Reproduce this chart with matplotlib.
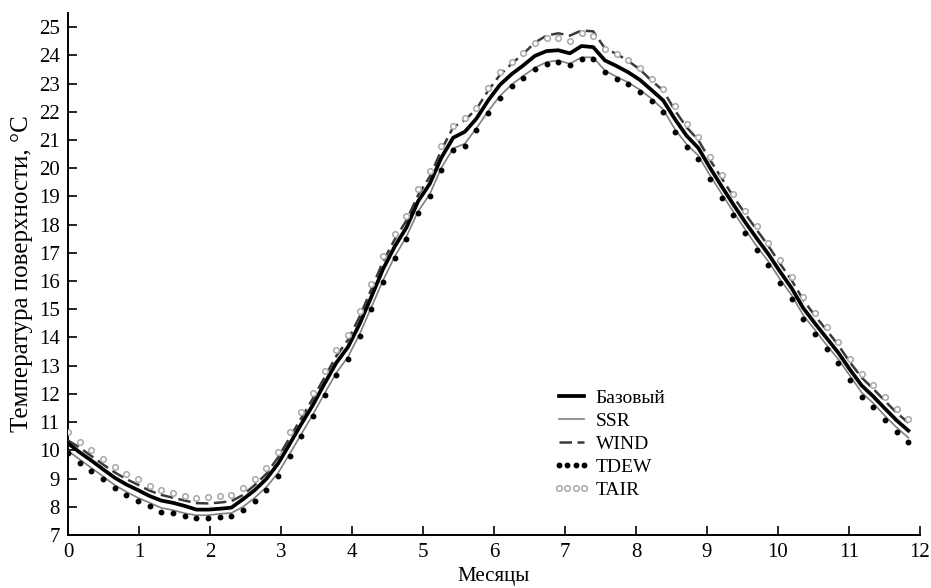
import numpy as np
import matplotlib
matplotlib.use("Agg")
import matplotlib.pyplot as plt

plt.rcParams['font.family'] = ['Liberation Serif', 'DejaVu Serif']

# 73 points, every 5 days, expressed in months
n_points = 73
months = np.arange(n_points) * 12.0 / 73.0

base = [10.25, 9.93, 9.64, 9.33, 9.03, 8.79, 8.59, 8.38, 8.22, 8.14,
        8.03, 7.90, 7.90, 7.93, 7.97, 8.27, 8.59, 8.99, 9.53, 10.23,
        10.94, 11.62, 12.38, 13.11, 13.67, 14.49, 15.45, 16.43, 17.23, 17.90,
        18.83, 19.45, 20.38, 21.08, 21.29, 21.76, 22.40, 22.95, 23.33, 23.64,
        23.98, 24.15, 24.18, 24.07, 24.33, 24.29, 23.82, 23.62, 23.40, 23.13,
        22.77, 22.40, 21.74, 21.15, 20.72, 20.02, 19.36, 18.72, 18.10, 17.52,
        16.96, 16.34, 15.75, 15.04, 14.50, 13.98, 13.46, 12.86, 12.30, 11.91,
        11.48, 11.06, 10.70]

ssr = [9.98, 9.68, 9.38, 9.08, 8.77, 8.53, 8.32, 8.14, 7.96, 7.88,
       7.77, 7.70, 7.70, 7.75, 7.78, 8.00, 8.32, 8.70, 9.20, 9.88,
       10.58, 11.28, 12.03, 12.75, 13.32, 14.13, 15.08, 16.03, 16.87, 17.58,
       18.47, 19.08, 20.02, 20.70, 20.87, 21.42, 22.02, 22.56, 22.96, 23.27,
       23.56, 23.76, 23.82, 23.70, 23.93, 23.93, 23.46, 23.24, 23.04, 22.78,
       22.46, 22.08, 21.38, 20.85, 20.45, 19.75, 19.10, 18.46, 17.84, 17.24,
       16.70, 16.07, 15.50, 14.79, 14.27, 13.73, 13.23, 12.64, 12.05, 11.67,
       11.22, 10.81, 10.45]

wind = [10.35, 10.10, 9.80, 9.50, 9.22, 8.98, 8.78, 8.57, 8.42, 8.32,
        8.22, 8.13, 8.12, 8.15, 8.20, 8.42, 8.77, 9.17, 9.75, 10.45,
        11.15, 11.85, 12.60, 13.35, 13.92, 14.75, 15.72, 16.70, 17.48, 18.15,
        19.05, 19.70, 20.65, 21.45, 21.70, 22.10, 22.75, 23.30, 23.70, 24.05,
        24.45, 24.70, 24.78, 24.70, 24.88, 24.85, 24.25, 24.05, 23.80, 23.50,
        23.10, 22.75, 22.05, 21.45, 21.00, 20.30, 19.65, 19.00, 18.40, 17.82,
        17.25, 16.62, 16.03, 15.33, 14.77, 14.26, 13.73, 13.12, 12.58, 12.18,
        11.75, 11.33, 10.98]

tdew = [9.91, 9.56, 9.28, 8.97, 8.65, 8.42, 8.21, 8.03, 7.83, 7.77,
        7.67, 7.59, 7.59, 7.65, 7.67, 7.89, 8.21, 8.60, 9.10, 9.80,
        10.50, 11.20, 11.96, 12.67, 13.23, 14.05, 15.00, 15.96, 16.80, 17.50,
        18.40, 19.00, 19.95, 20.65, 20.80, 21.36, 21.95, 22.50, 22.90, 23.20,
        23.50, 23.70, 23.76, 23.64, 23.88, 23.88, 23.40, 23.17, 22.97, 22.70,
        22.38, 21.99, 21.28, 20.75, 20.34, 19.63, 18.96, 18.33, 17.70, 17.10,
        16.56, 15.93, 15.35, 14.64, 14.12, 13.58, 13.08, 12.49, 11.90, 11.52,
        11.07, 10.66, 10.30]

tair = [10.66, 10.30, 10.00, 9.68, 9.40, 9.16, 8.97, 8.73, 8.60, 8.50,
        8.38, 8.32, 8.33, 8.38, 8.42, 8.65, 8.97, 9.37, 9.95, 10.66,
        11.37, 12.04, 12.80, 13.55, 14.10, 14.93, 15.90, 16.90, 17.66, 18.30,
        19.25, 19.90, 20.80, 21.50, 21.77, 22.15, 22.85, 23.40, 23.75, 24.07,
        24.45, 24.60, 24.60, 24.50, 24.78, 24.70, 24.23, 24.06, 23.82, 23.55,
        23.15, 22.80, 22.20, 21.55, 21.10, 20.40, 19.75, 19.10, 18.50, 17.94,
        17.35, 16.74, 16.15, 15.44, 14.87, 14.38, 13.84, 13.22, 12.70, 12.30,
        11.88, 11.45, 11.10]

labels = ["Базовый", "SSR", "WIND", "TDEW", "TAIR"]
x_ticks = list(range(0, 13))
y_ticks = list(range(7, 26))

fig = plt.figure(figsize=(9.31, 5.88), dpi=100)
ax = fig.add_axes([68 / 931, 1 - 535 / 588, (920 - 68) / 931, (535 - 13) / 588])

ax.plot(months, wind, color='#3a3a3a', lw=1.8, ls=(0, (5, 2.2)), label=labels[2], zorder=3)
ax.plot(months, ssr, color='#808080', lw=1.2, label=labels[1], zorder=3)
ax.plot(months, base, color='black', lw=2.7, label=labels[0], zorder=4)
ax.plot(months, tdew, ls='none', marker='o', ms=3.2, color='black', label=labels[3], zorder=5)
ax.plot(months, tair, ls='none', marker='o', ms=4.0, mfc='white', mec='#a8a8a8', mew=1.1,
        label=labels[4], zorder=5)

ax.set_xlim(0, 12)
ax.set_ylim(7, 25.5)
ax.set_xticks(x_ticks)
ax.set_yticks(y_ticks)
for s in ['top', 'right']:
    ax.spines[s].set_visible(False)
for s in ['left', 'bottom']:
    ax.spines[s].set_linewidth(1.4)
ax.tick_params(direction='in', length=6.5, width=1.2, labelsize=15, pad=6)

ax.set_xlabel("Месяцы", fontsize=15, labelpad=3)
ax.set_ylabel("Температура поверхности, °C", fontsize=18, labelpad=4)

handles, lbls = ax.get_legend_handles_labels()
order = [lbls.index(l) for l in labels]
leg = ax.legend([handles[i] for i in order], [lbls[i] for i in order],
                loc='upper left', bbox_to_anchor=(553 / 931, 1 - 389 / 588),
                bbox_transform=fig.transFigure, frameon=False, fontsize=14,
                handlelength=1.9, handletextpad=0.3, labelspacing=0.28,
                borderpad=0, borderaxespad=0, numpoints=4)

fig.savefig("out.png", dpi=100)
